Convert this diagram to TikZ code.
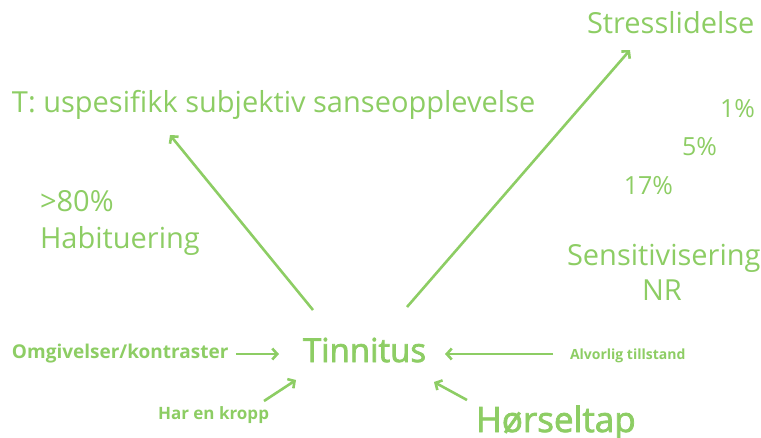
\documentclass[tikz,border=0pt]{standalone}
\usepackage{fontspec}
\setmainfont{Open Sans}
\newfontfamily\heavyface{Open Sans}[FakeBold=2.2]
\usetikzlibrary{arrows.meta}
\definecolor{leaf}{RGB}{141,205,100}
\begin{document}
\begin{tikzpicture}[x=1pt,y=-1pt,
  every node/.style={text=leaf,inner sep=0pt,outer sep=0pt},
  big/.style={font=\fontsize{29}{32}\selectfont,anchor=base west},
  pct/.style={font=\fontsize{25}{30}\selectfont,anchor=base east},
  key/.style={font=\heavyface\fontsize{33}{36}\selectfont,anchor=base west},
  small/.style={font=\bfseries,anchor=base west},
  link/.style={draw=leaf,line width=2.6pt,-{Straight Barb[length=5pt,width=11pt]}}]
\useasboundingbox (0,0) rectangle (761,437);
% headline texts
\node[big] (stress) at (587,33) {Stresslidelse};
\node[big] (sense) at (12,112) {T: uspesifikk subjektiv sanseopplevelse};
\node[big] (p80) at (40,211) {>80\%};
\node[big] (habit) at (40,248) {Habituering};
\node[pct] (p1) at (755,117) {1\%};
\node[pct] (p5) at (717,155) {5\%};
\node[pct] (p17) at (673,194) {17\%};
\node[big] (sens) at (567,265) {Sensitivisering};
\node[big,anchor=base] (nr) at (662,300) {NR};
% central term and hearing loss
\node[key] (tin) at (303,362) {Tinnitus};
\node[key,font=\heavyface\fontsize{35}{38}\selectfont] (hear) at (476,432) {Hørseltap};
% contributing factors
\node[small,font=\fontsize{19}{21}\selectfont\bfseries] (env) at (12,358) {Omgivelser/kontraster};
\node[small,font=\fontsize{17}{19}\selectfont\bfseries] (body) at (158,419) {Har en kropp};
\node[small,font=\fontsize{14}{16}\selectfont\bfseries] (sev) at (570,359) {Alvorlig tillstand};
% connectors
\coordinate (envA) at (236,354);
\coordinate (envB) at (279,354);
\draw[link] (envA) -- (envB);
\coordinate (bodyA) at (264,401);
\coordinate (bodyB) at (296,380);
\draw[link] (bodyA) -- (bodyB);
\coordinate (sevA) at (553,354);
\coordinate (sevB) at (445,354);
\draw[link] (sevA) -- (sevB);
\coordinate (hearA) at (467,400);
\coordinate (hearB) at (434,382);
\draw[link] (hearA) -- (hearB);
\coordinate (tinL) at (313,310);
\coordinate (senseB) at (170,135);
\draw[link] (tinL) -- (senseB);
\coordinate (tinR) at (407,307);
\coordinate (stressB) at (630,50);
\draw[link] (tinR) -- (stressB);
\end{tikzpicture}
\end{document}
